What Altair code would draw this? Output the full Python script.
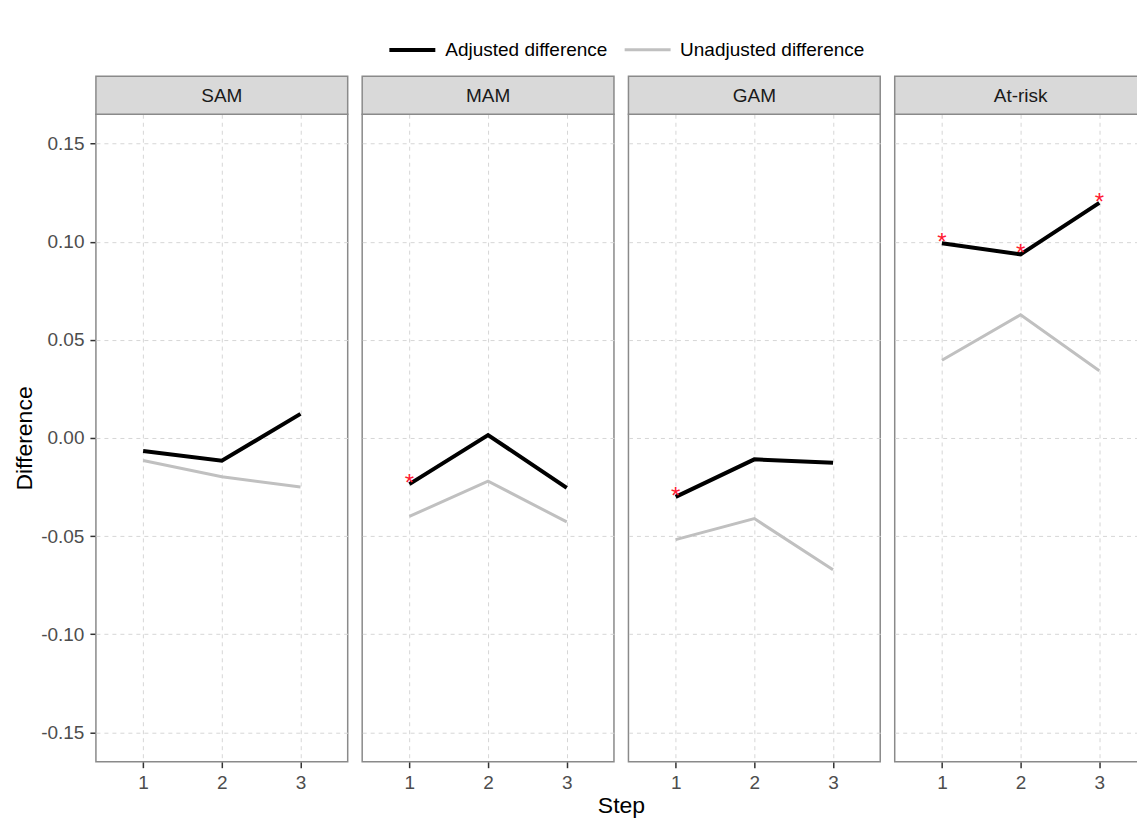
import altair as alt
import pandas as pd

# ---- data ----
panels = ["SAM", "MAM", "GAM", "At-risk"]
steps = [1, 2, 3]
series_names = ["Adjusted difference", "Unadjusted difference"]

sam_adjusted = [-0.0066, -0.0116, 0.0123]
mam_adjusted = [-0.0235, 0.0015, -0.0254]
gam_adjusted = [-0.0300, -0.0109, -0.0126]
atrisk_adjusted = [0.0993, 0.0936, 0.1198]

sam_unadjusted = [-0.0115, -0.0198, -0.0250]
mam_unadjusted = [-0.0400, -0.0220, -0.0428]
gam_unadjusted = [-0.0518, -0.0411, -0.0672]
atrisk_unadjusted = [0.0396, 0.0628, 0.0343]

# significant (starred) adjusted points
star_panels = ["MAM", "GAM", "At-risk", "At-risk", "At-risk"]
star_steps = [1, 1, 1, 2, 3]

y_ticks = [-0.15, -0.10, -0.05, 0.00, 0.05, 0.10, 0.15]

adjusted = dict(zip(panels, [sam_adjusted, mam_adjusted, gam_adjusted, atrisk_adjusted]))
unadjusted = dict(zip(panels, [sam_unadjusted, mam_unadjusted, gam_unadjusted, atrisk_unadjusted]))
stars = set(zip(star_panels, star_steps))

rows = []
for p in panels:
    for i, s in enumerate(steps):
        rows.append({"panel": p, "step": s, "series": series_names[0],
                     "value": adjusted[p][i], "star": (p, s) in stars,
                     "first": s == 1})
        rows.append({"panel": p, "step": s, "series": series_names[1],
                     "value": unadjusted[p][i], "star": False, "first": False})
df = pd.DataFrame(rows)

W = 252
H = 648
FONT = "Liberation Sans"

base = alt.Chart(df)

x_enc = alt.X("step:Q",
              scale=alt.Scale(domain=[0.4, 3.6], nice=False, zero=False),
              axis=alt.Axis(values=steps, format="d", title=None))
y_enc = alt.Y("value:Q",
              scale=alt.Scale(domain=[-0.165, 0.165], nice=False, zero=False),
              axis=alt.Axis(values=y_ticks, title="Difference",
                            labelExpr="datum.value < 0 ? '-' + format(-datum.value, '.2f') : format(datum.value, '.2f')"))

lines = base.mark_line(strokeCap="butt", strokeJoin="miter").encode(
    x=x_enc,
    y=y_enc,
    color=alt.Color("series:N", title=None,
                    scale=alt.Scale(domain=series_names, range=["#000000", "#c0c0c0"])),
    strokeWidth=alt.StrokeWidth("series:N", title=None,
                                scale=alt.Scale(domain=series_names, range=[4, 3])),
    order=alt.Order("step:Q"),
)

star_marks = base.transform_filter("datum.star").mark_text(
    text="*", color="#ff1a33", fontSize=24, font=FONT, baseline="middle", align="center"
).encode(x=x_enc, y=y_enc)

strip_rect = base.transform_filter("datum.first").mark_rect(
    fill="#d9d9d9", stroke="#8a8a8a", strokeWidth=1.5
).encode(x=alt.value(0), x2=alt.value(W), y=alt.value(-38), y2=alt.value(0))

strip_text = base.transform_filter("datum.first").mark_text(
    fontSize=19, font=FONT, color="#1a1a1a", baseline="middle", align="center"
).encode(x=alt.value(W / 2), y=alt.value(-18.5), text="panel:N")

layer = alt.layer(lines, star_marks, strip_rect, strip_text).properties(width=W, height=H)

chart = layer.facet(
    column=alt.Column("panel:N", sort=panels,
                      header=alt.Header(labels=False, title="Step", titleOrient="bottom",
                                        titleFontSize=23, titleFont=FONT,
                                        titleColor="#000000", titleFontWeight="normal",
                                        titlePadding=-8)),
    spacing=14.5,
    bounds="flush",
).properties(
    padding={"left": 5, "top": 16, "right": -11, "bottom": 0}
).configure_view(
    stroke="#8a8a8a", strokeWidth=1.5, fill="white"
).configure_axis(
    labelFont=FONT, labelFontSize=19, labelColor="#4d4d4d",
    titleFont=FONT, titleFontSize=23, titleColor="#000000", titleFontWeight="normal",
    tickColor="#333333", tickSize=6, tickWidth=1.5,
    domain=False,
    grid=True, gridColor="#d6d6d6", gridDash=[4, 4], gridWidth=1,
    labelPadding=6,
).configure_axisY(
    titlePadding=4,
).configure_legend(
    orient="none", legendX=291.7, legendY=-89.2, direction="horizontal",
    symbolType="stroke", symbolSize=2116, labelFont=FONT, labelFontSize=19,
    labelColor="#000000", labelOffset=8, columnPadding=10, labelLimit=400,
)

chart.save("out.html", embed_options={"renderer": "svg", "actions": False})
